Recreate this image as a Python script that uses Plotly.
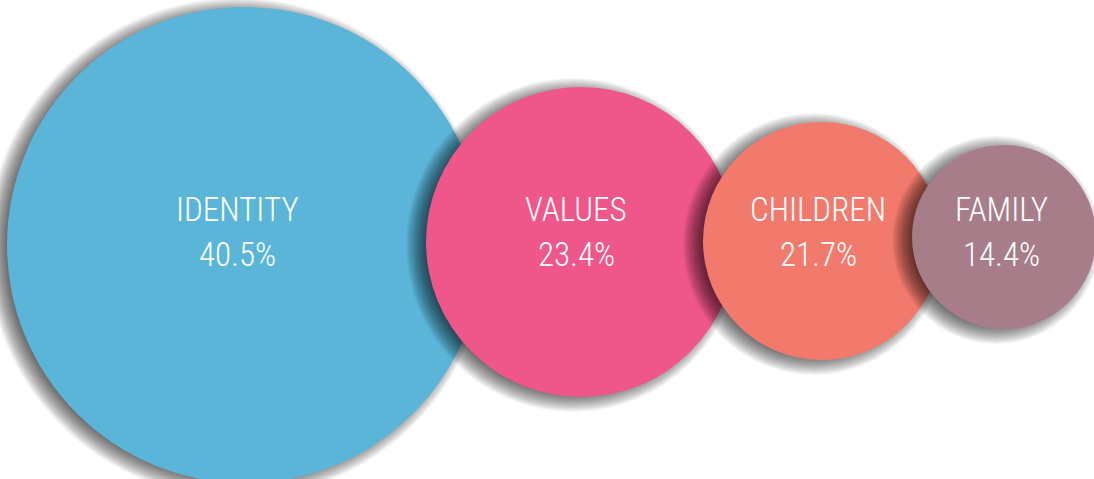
import plotly.graph_objects as go

# Share of responses by theme
categories = ["IDENTITY", "VALUES", "CHILDREN", "FAMILY"]
shares = [40.5, 23.4, 21.7, 14.4]

# Bubble layout (pixel-space coordinates, y measured downward)
center_x = [245, 581, 822, 1004]
center_y = [245, 242, 241, 237]
radius = [238, 155, 119, 92]
colors = ["#5BB5D8", "#EF5689", "#F27A6C", "#A67D89"]

W, H = 1094, 479
FONT = "Roboto Condensed, Liberation Sans Narrow, sans-serif"

shapes = []
annotations = []

# Soft drop shadow: stacked translucent discs, offset left/down
SHADOW_LAYERS = 22
SHADOW_OUT, SHADOW_IN = 12, 10
SHADOW_DX, SHADOW_DY = -8, 3

for cat, val, cx, cy, r, col in zip(categories, shares, center_x, center_y, radius, colors):
    sx, sy = cx + SHADOW_DX, cy + SHADOW_DY
    for i in range(SHADOW_LAYERS):
        rr = r + SHADOW_OUT - (SHADOW_OUT + SHADOW_IN) * i / (SHADOW_LAYERS - 1)
        shapes.append(dict(
            type="circle", xref="x", yref="y",
            x0=sx - rr, x1=sx + rr, y0=sy - rr, y1=sy + rr,
            fillcolor="rgba(0,0,0,0.04)", line=dict(width=0), layer="above",
        ))
    shapes.append(dict(
        type="circle", xref="x", yref="y",
        x0=cx - r, x1=cx + r, y0=cy - r, y1=cy + r,
        fillcolor=col, line=dict(width=0), layer="above",
    ))
    tx = cx - 0.03 * r
    annotations.append(dict(
        x=tx, y=232 - 23, xref="x", yref="y", text=cat, showarrow=False,
        font=dict(family=FONT, size=33, color="white", weight=300),
        xanchor="center", yanchor="middle",
    ))
    annotations.append(dict(
        x=tx, y=232 + 22, xref="x", yref="y", text=f"{val:.1f}%", showarrow=False,
        font=dict(family=FONT, size=33, color="white", weight=300),
        xanchor="center", yanchor="middle",
    ))

fig = go.Figure()
fig.add_trace(go.Scatter(x=[0, W], y=[0, H], mode="markers",
                         marker=dict(opacity=0), hoverinfo="skip", showlegend=False))
fig.update_layout(
    width=W, height=H,
    margin=dict(l=0, r=0, t=0, b=0),
    paper_bgcolor="white", plot_bgcolor="white",
    shapes=shapes, annotations=annotations,
    xaxis=dict(range=[0, W], visible=False, fixedrange=True),
    yaxis=dict(range=[H, 0], visible=False, fixedrange=True),
    showlegend=False,
)
fig.write_html("out.html", config={"displayModeBar": False})
